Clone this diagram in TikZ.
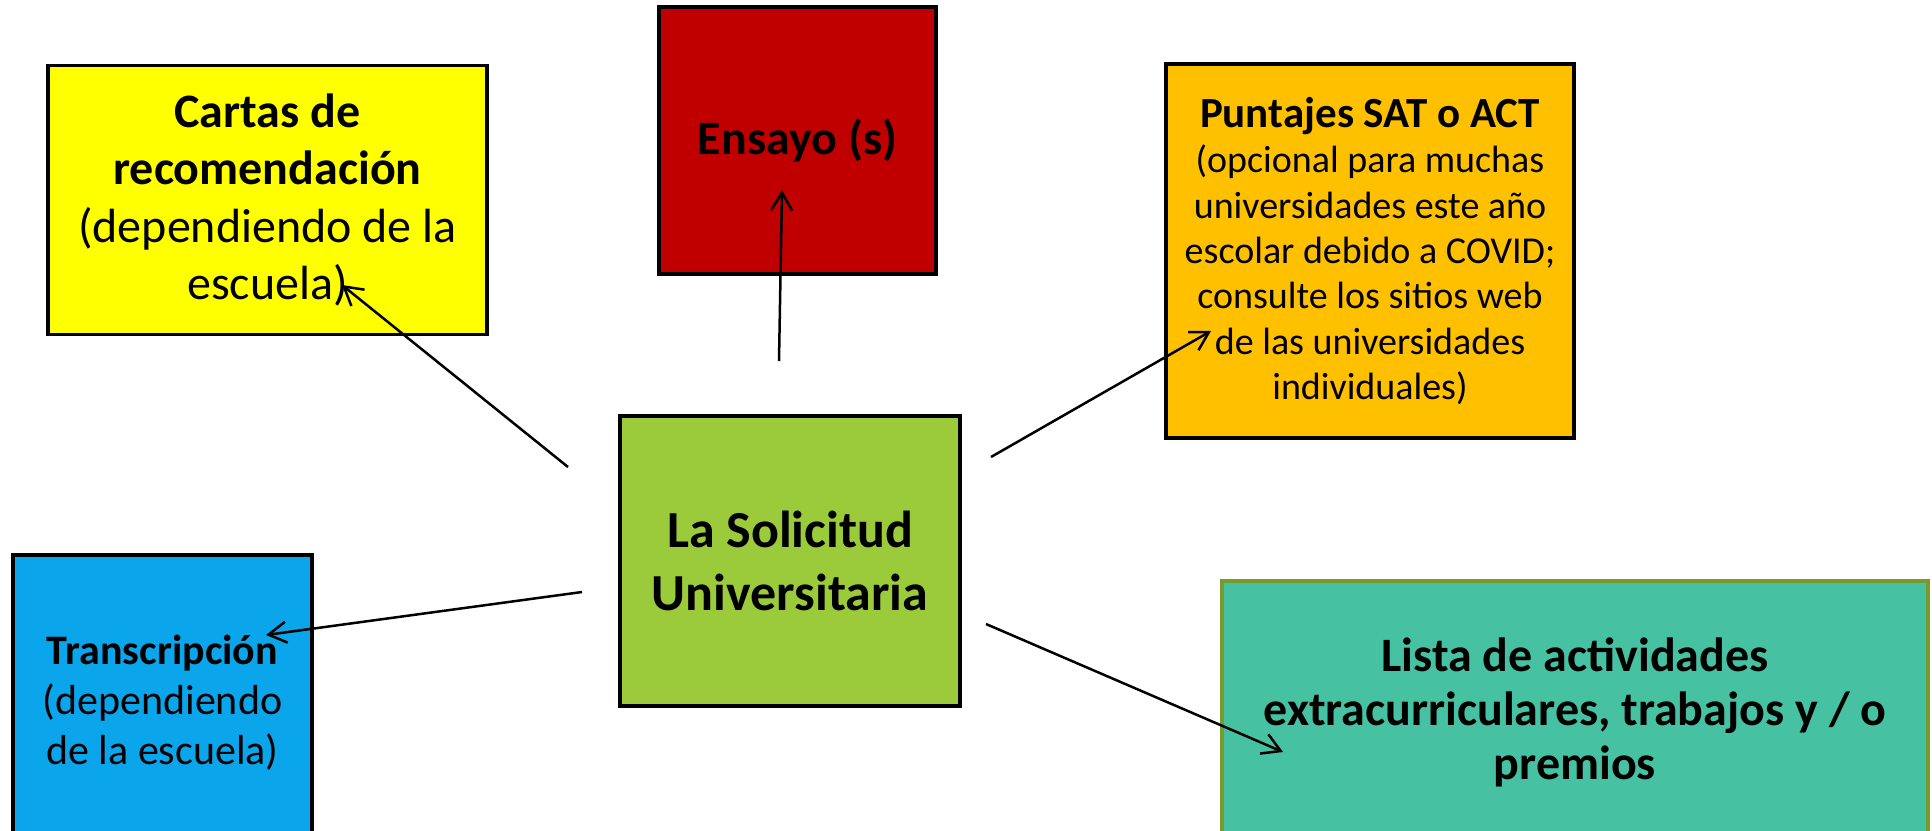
\documentclass[tikz,border=0pt]{standalone}
\usepackage{fontspec}
\setmainfont{Carlito}
\usetikzlibrary{arrows.meta}
\definecolor{amarillo}{HTML}{FFFF00}
\definecolor{rojo}{HTML}{C00000}
\definecolor{naranja}{HTML}{FFC000}
\definecolor{lima}{HTML}{9BCB3B}
\definecolor{celeste}{HTML}{0BA5EC}
\definecolor{turquesa}{HTML}{46C1A2}
\definecolor{oliva}{HTML}{779A2C}

\begin{document}
\begin{tikzpicture}[x=0.5pt,y=-0.5pt,
        caja/.style={draw=black,line width=1.75pt,align=center,inner sep=0pt},
        flecha/.style={line width=1.25pt,-{Straight Barb[length=9pt,width=10.5pt]}}]
            \path[use as bounding box,clip] (0,0) rectangle (1932,830);
            \node[caja,fill=amarillo,minimum width=219.5pt,minimum height=134.5pt,
                font=\fontsize{24}{28.75}\selectfont] (cartas) at (267.5,200)
                {\textbf{Cartas de}\\ \textbf{recomendación}\\ (dependiendo de la\\ escuela)};
            \node[caja,fill=rojo,minimum width=138.5pt,minimum height=133.5pt,
                font=\bfseries\fontsize{24}{29}\selectfont] (ensayo) at (797.5,140.5) {Ensayo (s)};
            \node[caja,fill=naranja,minimum width=204pt,minimum height=187pt,
                font=\fontsize{19}{22.7}\selectfont] (puntajes) at (1370,251)
                {{\bfseries\fontsize{21.5}{22.7}\selectfont Puntajes SAT o ACT}\\ (opcional para muchas\\ universidades este año\\
                 escolar debido a COVID;\\ consulte los sitios web\\ de las universidades\\ individuales)};
            \node[caja,fill=lima,minimum width=170pt,minimum height=145pt,
                font=\bfseries\fontsize{26}{31.5}\selectfont] (solicitud) at (790,561)
                {La Solicitud\\ Universitaria};
            \node[caja,fill=celeste,minimum width=149.5pt,minimum height=148pt,
                font=\fontsize{21}{25}\selectfont] (transcripcion) at (162.5,703)
                {\textbf{Transcripción}\\ (dependiendo\\ de la escuela)};
            \node[caja,draw=oliva,fill=turquesa,minimum width=353pt,minimum height=131pt,
                font=\bfseries\fontsize{24}{27}\selectfont] (lista) at (1575,712)
                {Lista de actividades\\ extracurriculares, trabajos y / o\\ premios};
            % extremos de las flechas
            \coordinate (cartas-ini) at (568,467);
            \coordinate (cartas-fin) at (342,285);
            \coordinate (ensayo-ini) at (779,361);
            \coordinate (ensayo-fin) at (782,190);
            \coordinate (puntajes-ini) at (991,457);
            \coordinate (puntajes-fin) at (1211,331);
            \coordinate (transcripcion-ini) at (582,592);
            \coordinate (transcripcion-fin) at (266,635);
            \coordinate (lista-ini) at (986,624);
            \coordinate (lista-fin) at (1283,752);
            \foreach \n in {cartas,ensayo,puntajes,transcripcion,lista}{
                \draw[flecha] (\n-ini)--(\n-fin);
            }
        \end{tikzpicture}
\end{document}
